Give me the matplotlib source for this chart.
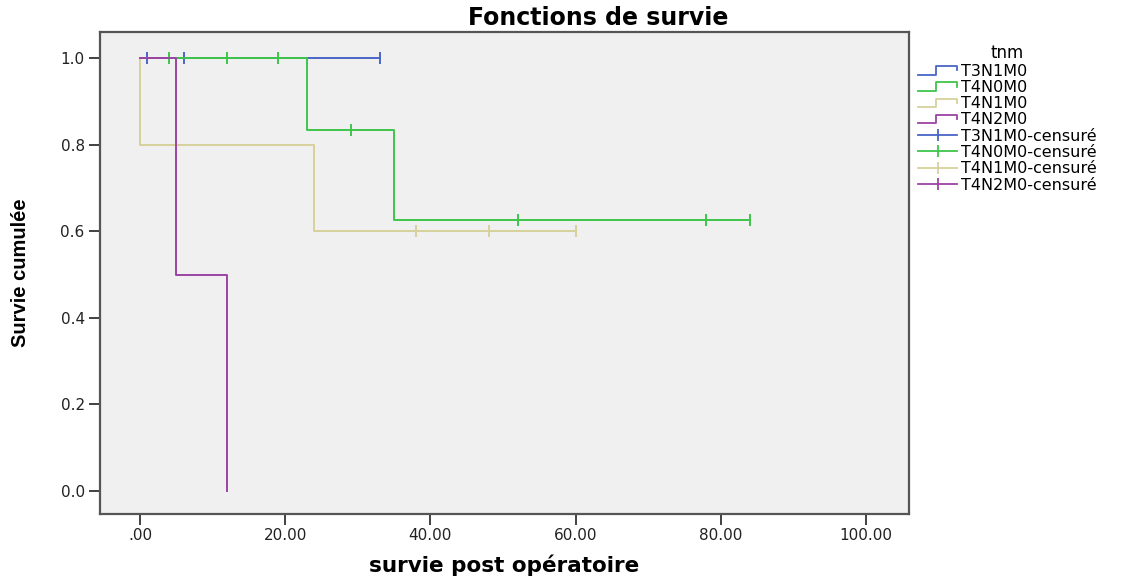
import numpy as np
import matplotlib
matplotlib.use("Agg")
import matplotlib.pyplot as plt
from matplotlib.lines import Line2D
from matplotlib.legend_handler import HandlerLine2D

# survival data per tnm group: time, event (1 = death, 0 = censored)
groups = ["T3N1M0", "T4N0M0", "T4N1M0", "T4N2M0"]
times_t3n1 = [1, 6, 33]
events_t3n1 = [0, 0, 0]
times_t4n0 = [4, 12, 19, 23, 29, 35, 52, 78, 84]
events_t4n0 = [0, 0, 0, 1, 0, 1, 0, 0, 0]
times_t4n1 = [0, 24, 38, 48, 60]
events_t4n1 = [1, 1, 0, 0, 0]
times_t4n2 = [5, 12]
events_t4n2 = [1, 1]
colors = ["#4a66c6", "#3ec54a", "#d6d19b", "#9c44a3"]

xticks = [0, 20, 40, 60, 80, 100]
xticklabels = [".00", "20.00", "40.00", "60.00", "80.00", "100.00"]
yticks = [0.0, 0.2, 0.4, 0.6, 0.8, 1.0]


def km(times, events):
	t = np.array(times, dtype=float)
	e = np.array(events)
	xs = [0.0]
	ys = [1.0]
	s = 1.0
	cens_x = []
	cens_y = []
	for u in np.unique(t):
		at_risk = np.sum(t >= u)
		d = np.sum((t == u) & (e == 1))
		c = np.sum((t == u) & (e == 0))
		if d > 0:
			xs.append(u)
			ys.append(s)
			s = s * (1 - d / at_risk)
			xs.append(u)
			ys.append(s)
		if c > 0:
			cens_x.append(u)
			cens_y.append(s)
	if ys[-1] > 0 or xs[-1] < t.max():
		xs.append(t.max())
		ys.append(s)
	return xs, ys, cens_x, cens_y


class StepHandler(HandlerLine2D):
	def create_artists(self, legend, orig_handle, xdescent, ydescent, width, height, fontsize, trans):
		y0 = height * 0.1 - ydescent
		y1 = height * 0.85 - ydescent
		xd = [-xdescent, -xdescent + width * 0.45, -xdescent + width * 0.45, -xdescent + width, -xdescent + width]
		yd = [y0, y0, y1, y1, y0 + (y1 - y0) * 0.5]
		ln = Line2D(xd, yd, color=orig_handle.get_color(), lw=1.3)
		ln.set_transform(trans)
		return [ln]


plt.rcParams['font.family'] = ['DejaVu Sans']

fig = plt.figure(figsize=(11.29, 5.76), dpi=100)
ax = fig.add_axes([100 / 1129, 1 - 514 / 576, 809 / 1129, 482 / 576])
ax.set_facecolor("#f0f0f0")

all_times = [times_t3n1, times_t4n0, times_t4n1, times_t4n2]
all_events = [events_t3n1, events_t4n0, events_t4n1, events_t4n2]
line_handles = []
cens_handles = []
for name, tt, ee, col in zip(groups, all_times, all_events, colors):
	xs, ys, cx, cy = km(tt, ee)
	ln, = ax.plot(xs, ys, color=col, lw=1.4)
	ax.plot(cx, cy, linestyle="none", marker="|", markersize=8, markeredgewidth=1.4, color=col)
	line_handles.append(ln)
	cens_handles.append(Line2D([], [], color=col, lw=1.3, marker="|", markersize=8, markeredgewidth=1.3))

ax.set_xlim(-5.5, 105.9)
ax.set_ylim(-0.053, 1.06)
ax.set_xticks(xticks)
ax.set_xticklabels(xticklabels)
ax.set_yticks(yticks)
ax.set_yticklabels(["%.1f" % v for v in yticks])
ax.tick_params(direction="out", length=8, width=1.3, colors="#333333", labelcolor="#222222", labelsize=11, pad=3)
ax.tick_params(axis="x", pad=2)
for sp in ax.spines.values():
	sp.set_color("#555555")
	sp.set_linewidth(1.6)

ax.set_xlabel("survie post opératoire", fontsize=15.5, fontweight="bold", labelpad=8)
ax.set_ylabel("Survie cumulée", fontsize=14.5, fontweight="bold", family=["Liberation Sans"], labelpad=22)
fig.text(598 / 1129, 1 - 18 / 576, "Fonctions de survie", ha="center", va="center", fontsize=17, fontweight="bold")

handles = line_handles + cens_handles
labels = groups + [g + "-censuré" for g in groups]
hmap = {h: StepHandler() for h in line_handles}
leg = fig.legend(handles, labels, loc="upper left", bbox_to_anchor=(912 / 1129, 1 - 38 / 576), frameon=False,
	title="tnm", fontsize=11.5, title_fontsize=12, handler_map=hmap, handlelength=2.4, handletextpad=0.25,
	labelspacing=0.08, borderaxespad=0)

fig.savefig("out.png", dpi=100, facecolor="white")
